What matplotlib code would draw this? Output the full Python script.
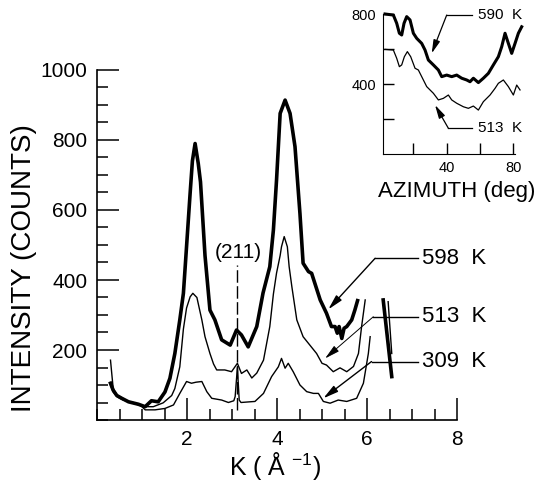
import matplotlib
matplotlib.use("Agg")
import matplotlib.pyplot as plt
from matplotlib.ticker import MultipleLocator, FixedLocator

plt.rcParams['font.family'] = ['Liberation Sans', 'DejaVu Sans']
plt.rcParams['mathtext.fontset'] = 'custom'
plt.rcParams['mathtext.rm'] = 'Liberation Sans'
plt.rcParams['mathtext.it'] = 'Liberation Sans'

# ---------------- main panel data ----------------
k_598 = [0.30, 0.36, 0.44, 0.55, 0.70, 0.92, 1.07, 1.21, 1.36, 1.51, 1.62, 1.73, 1.84, 1.92, 1.96,
         2.07, 2.12, 2.18, 2.25, 2.30, 2.40, 2.51, 2.62, 2.77, 2.96, 3.10, 3.21, 3.36, 3.55, 3.69,
         3.84, 3.92, 3.99, 4.07, 4.18, 4.29, 4.40, 4.51, 4.58, 4.70, 4.77, 4.96, 5.10, 5.21, 5.29,
         5.34, 5.38, 5.44, 5.49, 5.55, 5.66, 5.73, 5.79]
i_598 = [105, 85, 70, 62, 52, 45, 38, 55, 52, 80, 119, 190, 286, 362, 438,
         649, 740, 790, 733, 680, 470, 314, 286, 229, 214, 257, 243, 209, 267, 363,
         438, 543, 686, 876, 914, 876, 781, 590, 448, 424, 419, 343, 305, 267, 267,
         248, 267, 233, 262, 267, 286, 314, 341]
k_598_tail = [6.36, 6.55]
i_598_tail = [343, 124]

k_513 = [0.30, 0.33, 0.36, 0.44, 0.66, 1.03, 1.25, 1.47, 1.66, 1.73, 1.84, 1.92, 1.99, 2.07, 2.13,
         2.22, 2.33, 2.40, 2.51, 2.59, 2.66, 2.84, 2.99, 3.12, 3.21, 3.33, 3.44, 3.55, 3.70, 3.84,
         3.92, 3.99, 4.07, 4.10, 4.16, 4.23, 4.27, 4.33, 4.44, 4.58, 4.73, 4.88, 5.00, 5.10, 5.25,
         5.40, 5.55, 5.70, 5.81, 5.88, 5.96]
i_513 = [171, 130, 90, 72, 55, 38, 38, 49, 70, 90, 152, 260, 320, 352, 362,
         350, 286, 238, 190, 160, 143, 143, 138, 162, 133, 143, 120, 134, 171, 267,
         360, 420, 470, 495, 524, 495, 438, 381, 286, 238, 214, 190, 162, 157, 138,
         149, 138, 153, 190, 267, 343]
k_513_tail = [6.47, 6.55]
i_513_tail = [338, 190]

k_309 = [0.30, 0.36, 0.45, 0.58, 0.80, 0.96, 1.07, 1.29, 1.51, 1.70, 1.84, 1.99, 2.10, 2.20, 2.33,
         2.44, 2.55, 2.77, 2.92, 3.04, 3.07, 3.12, 3.16, 3.20, 3.40, 3.51, 3.70, 3.88, 4.03, 4.10,
         4.18, 4.25, 4.36, 4.51, 4.66, 4.81, 4.92, 5.03, 5.18, 5.36, 5.55, 5.77, 5.92, 6.03, 6.07]
i_309 = [100, 80, 66, 57, 50, 43, 29, 29, 33, 43, 76, 110, 105, 108, 110,
         81, 62, 57, 50, 55, 67, 150, 57, 50, 52, 53, 76, 124, 152, 176,
         148, 162, 138, 100, 81, 76, 76, 53, 48, 57, 53, 62, 105, 190, 238]

x_ticks = [2, 4, 6, 8]
y_ticks = [200, 400, 600, 800, 1000]
peak_label = "(211)"
peak_k = 3.10
series_labels = ["598  K", "513  K", "309  K"]

# ---------------- inset data ----------------
az_590 = [3, 8, 10, 11.6, 13, 14.4, 16, 18, 20, 22, 25, 27, 29, 32, 35, 37, 40, 43, 46, 49,
          52, 54, 56, 59, 62, 65, 68, 71, 73, 75, 77, 79, 81, 83, 85]
in_590 = [800, 794, 747, 690, 680, 747, 785, 766, 690, 661, 632, 594, 537, 509, 480, 442, 451, 442, 451, 433,
          423, 413, 433, 408, 433, 461, 509, 556, 613, 690, 632, 575, 632, 690, 727]
az_513 = [3, 8, 10, 11.6, 13, 14.6, 16.4, 18.4, 21, 23, 25, 28, 32, 35, 38, 41, 43, 46, 50, 53,
          56, 59, 62, 66, 69, 71, 74, 77, 80, 82, 84]
in_513 = [598, 594, 547, 499, 509, 556, 585, 556, 490, 480, 442, 385, 347, 309, 318, 337, 309, 290, 270, 261,
          274, 251, 299, 337, 375, 404, 423, 385, 337, 394, 366]
inset_labels = ["590  K", "513  K"]

W, H = 540, 486
fig = plt.figure(figsize=(W / 100, H / 100), dpi=100)

# ---------------- main axes ----------------
ax = fig.add_axes([97 / W, 1 - 420 / H, 360 / W, 350 / H])
ax.set_xlim(0, 8)
ax.set_ylim(0, 1000)
for s in ['top', 'right']:
    ax.spines[s].set_visible(False)
for s in ['left', 'bottom']:
    ax.spines[s].set_linewidth(1.2)

ax.xaxis.set_major_locator(FixedLocator(x_ticks))
ax.xaxis.set_minor_locator(MultipleLocator(0.5))
ax.yaxis.set_major_locator(FixedLocator(y_ticks))
ax.yaxis.set_minor_locator(MultipleLocator(50))
ax.tick_params(which='major', direction='in', length=16, width=1.1, labelsize=15, pad=7)
ax.tick_params(which='minor', direction='in', length=8, width=1.1)

ax.plot(k_598, i_598, color='black', lw=2.6, solid_joinstyle='round')
ax.plot(k_598_tail, i_598_tail, color='black', lw=2.6)
ax.plot(k_513, i_513, color='black', lw=1.0)
ax.plot(k_513_tail, i_513_tail, color='black', lw=1.0)
ax.plot(k_309, i_309, color='black', lw=1.0)

ax.plot([peak_k, peak_k], [30, 443], color='black', lw=1.0, dashes=(9, 2.5))
ax.text(peak_k + 0.03, 480, peak_label, ha='center', va='center', fontsize=15)

fig.text(24 / W, 1 - 268 / H, "INTENSITY (COUNTS)", rotation=90,
         ha='center', va='center', fontsize=20)
fig.text(275 / W, 1 - 466 / H, r"K ( Å $^{-1}$)", ha='center', va='center', fontsize=18)

# leaders: (corner_k, corner_i, tip_k, tip_i, lw)
leaders = [(6.18, 462, 5.14, 316, 1.0),
           (6.14, 295, 5.07, 176, 0.7),
           (6.10, 167, 5.03, 62, 1.0)]
for (ck, ci, tk, ti, lw), lab in zip(leaders, series_labels):
    ax.plot([ck, 7.14], [ci, ci], color='black', lw=1.0, clip_on=False)
    ax.annotate('', xy=(tk, ti), xytext=(ck, ci),
                arrowprops=dict(arrowstyle='-|>,head_length=0.9,head_width=0.22',
                                color='black', lw=lw, shrinkA=0, shrinkB=0),
                annotation_clip=False)
    ax.text(7.22, ci, lab, ha='left', va='center', fontsize=16, clip_on=False)

# ---------------- inset ----------------
ax2 = fig.add_axes([382.7 / W, 1 - 154 / H, 139 / W, 140 / H])
ax2.set_xlim(1.6, 85)
ax2.set_ylim(0, 800)
for s in ['top', 'right']:
    ax2.spines[s].set_visible(False)
ax2.spines['bottom'].set_bounds(1.6, 81)
ax2.xaxis.set_major_locator(FixedLocator([20, 40, 60, 80]))
ax2.set_xticklabels(['', '40', '', '80'])
ax2.yaxis.set_major_locator(FixedLocator([200, 400, 600, 800]))
ax2.set_yticklabels(['', '400', '', '800'])
ax2.tick_params(direction='in', length=8, width=1.0, labelsize=10.5, pad=5)
ax2.patch.set_alpha(0)

ax2.plot(az_590, in_590, color='black', lw=2.2, clip_on=False)
ax2.plot(az_513, in_513, color='black', lw=0.9, clip_on=False)

inset_leaders = [(40, 794, 31, 575), (41, 147, 33, 280)]
for (cx, cy, tx, ty), lab in zip(inset_leaders, inset_labels):
    ax2.plot([cx, 55], [cy, cy], color='black', lw=0.9, clip_on=False)
    ax2.annotate('', xy=(tx, ty), xytext=(cx, cy),
                 arrowprops=dict(arrowstyle='-|>,head_length=0.8,head_width=0.2',
                                 color='black', lw=0.9, shrinkA=0, shrinkB=0),
                 annotation_clip=False)
    ax2.text(58.5, cy, lab, ha='left', va='center', fontsize=11, clip_on=False)

fig.text(457 / W, 1 - 192 / H, "AZIMUTH (deg)", ha='center', va='center', fontsize=16)

fig.savefig("out.png", dpi=100)
